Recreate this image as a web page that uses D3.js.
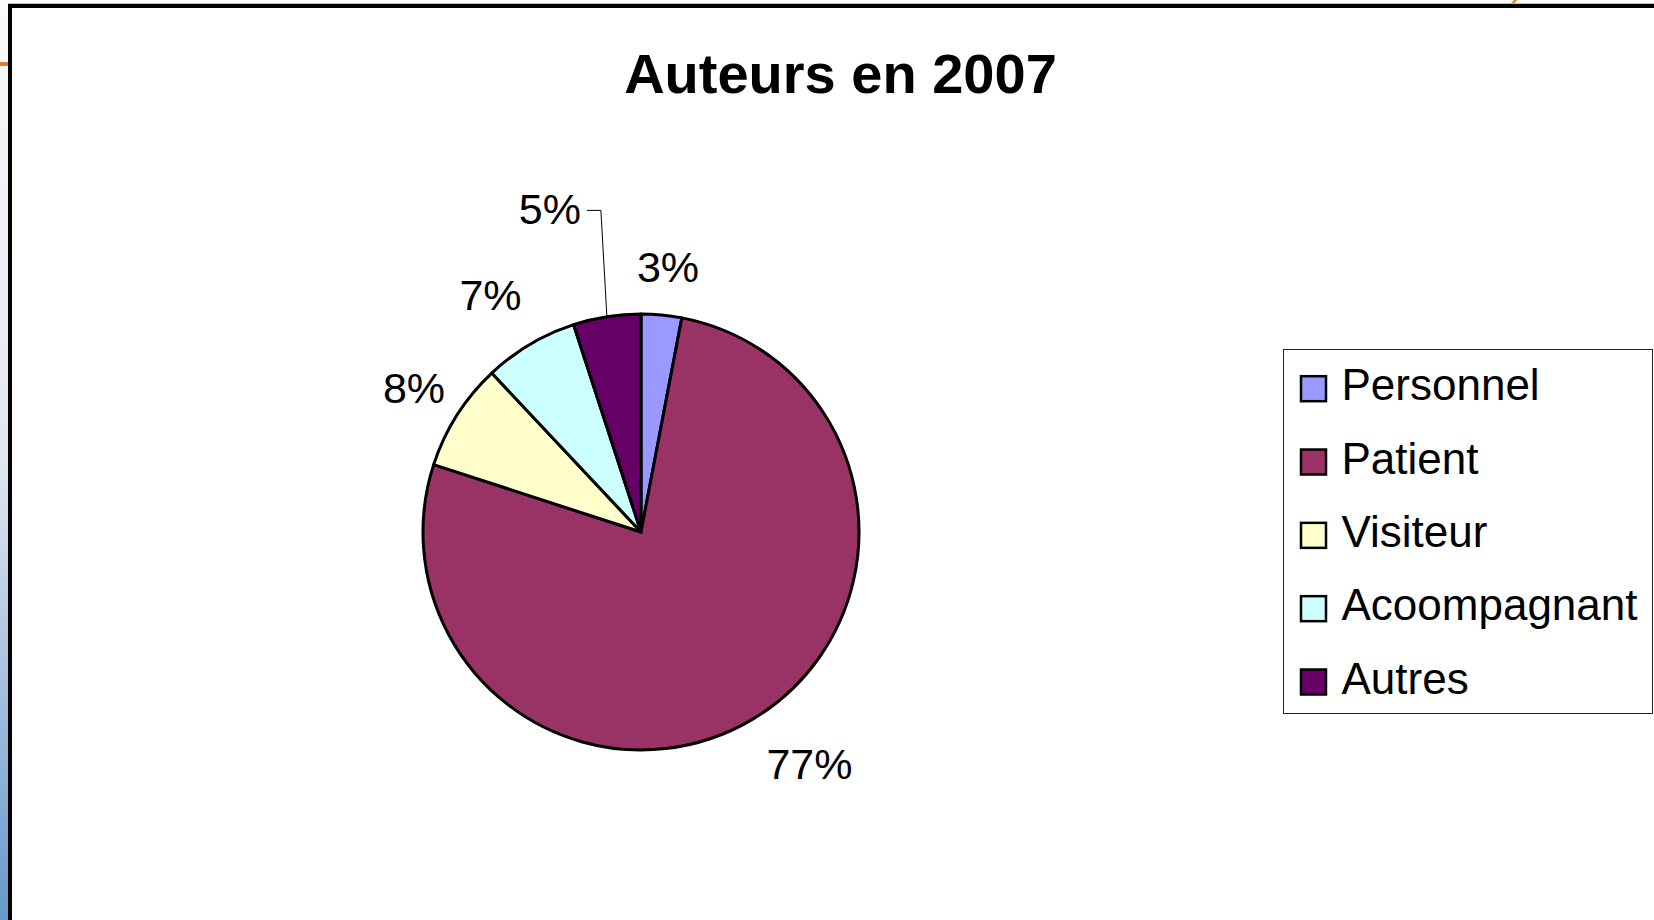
<!DOCTYPE html>
<html>
<head>
<meta charset="utf-8">
<script src="https://cdn.jsdelivr.net/npm/d3@7"></script>
<style>
  html, body { margin: 0; padding: 0; background: #fff; }
  svg { display: block; font-family: "Liberation Sans", Arial, sans-serif; }
</style>
</head>
<body>
<svg id="chart" width="1654" height="920"></svg>
<script>
// data
const categories = ["Personnel", "Patient", "Visiteur", "Acoompagnant", "Autres"];
const shares = [3, 77, 8, 7, 5];
const colors = ["#9999ff", "#993366", "#ffffcc", "#ccffff", "#660066"];
const title = "Auteurs en 2007";

// small per-label nudges (Excel "best fit" placement)
const labelNudge = {
	Personnel: [1, 9],
	Patient: [28, -6],
	Visiteur: [6, 3],
	Acoompagnant: [-10, 0],
	Autres: [-48, -51]
};

const svg = d3.select("#chart");
const W = 1654, H = 920;
const cx = 641, cy = 532, r = 218;

// slide background bits around the chart frame
const defs = svg.append("defs");
const grad = defs.append("linearGradient").attr("id", "strip")
	.attr("x1", 0).attr("y1", 0).attr("x2", 0).attr("y2", 1);
grad.append("stop").attr("offset", "0%").attr("stop-color", "#fbfbfd");
grad.append("stop").attr("offset", "50%").attr("stop-color", "#e2e6ef");
grad.append("stop").attr("offset", "100%").attr("stop-color", "#6699cc");

svg.append("rect").attr("x", 0).attr("y", 0).attr("width", 8).attr("height", H).attr("fill", "url(#strip)");
svg.append("rect").attr("x", 0).attr("y", 62).attr("width", 8).attr("height", 4).attr("fill", "#d9822b");
svg.append("path").attr("d", "M1511,3 L1514,0 L1517,0 L1515,3 Z").attr("fill", "#e58a2a");
svg.append("rect").attr("x", 8).attr("y", 3).attr("width", W - 8).attr("height", 1).attr("fill", "#bbb");

// chart frame
svg.append("rect")
	.attr("x", 10).attr("y", 6)
	.attr("width", W + 20).attr("height", H + 20)
	.attr("fill", "#fff").attr("stroke", "#000").attr("stroke-width", 4);

// title
svg.append("text")
	.attr("x", 840.5).attr("y", 93)
	.attr("text-anchor", "middle")
	.style("font-size", "56px").style("font-weight", "bold")
	.text(title);

// pie
const pie = d3.pie().sort(null).value(d => d.value);
const arcs = pie(categories.map((c, i) => ({name: c, value: shares[i], color: colors[i]})));
const arc = d3.arc().innerRadius(0).outerRadius(r);

const g = svg.append("g").attr("transform", `translate(${cx},${cy})`);
g.selectAll("path.slice").data(arcs).enter().append("path")
	.attr("class", "slice")
	.attr("d", arc)
	.attr("fill", d => d.data.color)
	.attr("stroke", "#000").attr("stroke-width", 3).attr("stroke-linejoin", "round");

// labels
const labelR = 276;
const fmt = d => d3.format(".0%")(d.data.value / d3.sum(shares));
arcs.forEach(d => {
	const a = (d.startAngle + d.endAngle) / 2;
	const nudge = labelNudge[d.data.name];
	const lx = Math.sin(a) * labelR + nudge[0];
	const ly = -Math.cos(a) * labelR + nudge[1];
	const t = g.append("text")
		.attr("x", lx).attr("y", ly + 15.5)
		.attr("text-anchor", "middle")
		.style("font-size", "43px")
		.text(fmt(d));
	// leader line when the label was pulled away
	if (Math.hypot(nudge[0], nudge[1]) > 40) {
		const w = t.node().getBBox().width;
		const ex = Math.sin(a) * r, ey = -Math.cos(a) * r;
		const sx = lx + w / 2 + 6, sy = ly + 2;
		g.append("path")
			.attr("d", `M${sx},${sy} H${sx + 14} L${ex},${ey}`)
			.attr("fill", "none").attr("stroke", "#000").attr("stroke-width", 1);
	}
});

// legend
const lg = svg.append("g");
lg.append("rect")
	.attr("x", 1283.5).attr("y", 349.5).attr("width", 369).attr("height", 364)
	.attr("fill", "#fff").attr("stroke", "#222").attr("stroke-width", 1);
const rowY = d3.scalePoint().domain(categories).range([388.7, 682]);
const items = lg.selectAll("g.item").data(categories).enter().append("g")
	.attr("class", "item")
	.attr("transform", d => `translate(0,${rowY(d)})`);
items.append("rect")
	.attr("x", 1301).attr("y", -12.5).attr("width", 25).attr("height", 25)
	.attr("fill", (d, i) => colors[i])
	.attr("stroke", "#000").attr("stroke-width", 2.5);
items.append("text")
	.attr("x", 1341.5).attr("y", 11.5)
	.style("font-size", "44px")
	.text(d => d);
</script>
</body>
</html>
